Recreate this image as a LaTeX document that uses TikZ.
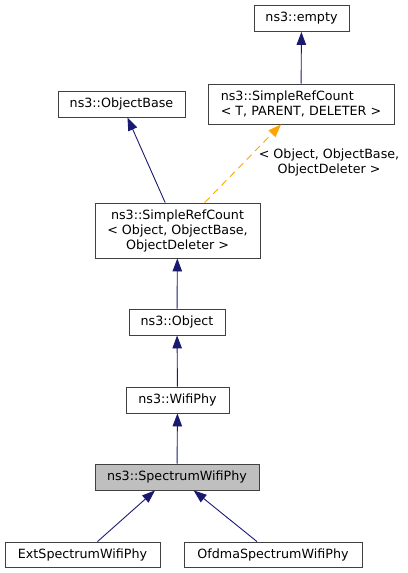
\documentclass[tikz,border=0pt]{standalone}
\usepackage{fontspec}
\setmainfont{DejaVu Sans}
\usepackage{xcolor}
\usetikzlibrary{arrows.meta}
\definecolor{edgeblue}{RGB}{25,25,112}
\definecolor{tmplorange}{RGB}{255,165,0}
\definecolor{boxgray}{RGB}{191,191,191}

\begin{document}
\begin{tikzpicture}[x=1pt,y=-1pt,font=\fontsize{12.7}{15}\selectfont]
    \tikzstyle{cls}=[draw=black!75,line width=0.9pt,inner sep=0pt,minimum height=26pt]
    \tikzstyle{current}=[cls,fill=boxgray]
    \tikzstyle{inherit}=[draw=edgeblue,line width=0.9pt,-{Triangle[length=13pt,width=9.5pt]}]
    \tikzstyle{tmpl}=[draw=tmplorange,line width=0.9pt,dash pattern=on 7pt off 5pt,-{Triangle[length=13pt,width=9.5pt]},tmplorange]

    \useasboundingbox (0,0) rectangle (407,573);

    \node[cls,minimum width=95pt] (empty) at (301.5,18.5) {ns3::empty};
    \node[cls,minimum width=186pt,minimum height=40pt,align=left] (srcT) at (301,104) {ns3::SimpleRefCount\\< T, PARENT, DELETER >};
    \node[cls,minimum width=127pt] (objbase) at (121.5,104) {ns3::ObjectBase};
    \node[cls,minimum width=165pt,minimum height=55pt,align=center] (srcO) at (177.5,230.5) {ns3::SimpleRefCount\hspace{9pt}\\< Object, ObjectBase,\\ObjectDeleter >};
    \node[cls,minimum width=96pt] (object) at (177,322) {ns3::Object};
    \node[cls,minimum width=103pt] (wifiphy) at (177.5,400) {ns3::WifiPhy};
    \node[current,minimum width=164pt] (spectrum) at (177,477) {ns3::SpectrumWifiPhy};
    \node[cls,minimum width=155pt,minimum height=25pt] (ext) at (82.5,554.5) {ExtSpectrumWifiPhy};
    \node[cls,minimum width=178pt,minimum height=25pt] (ofdma) at (273,554.5) {OfdmaSpectrumWifiPhy};

    \node[align=center,inner sep=0pt] (tmplabel) at (329,162) {< Object, ObjectBase,\\ObjectDeleter >};

    \draw [inherit] (srcT) -- (empty);
    \draw [inherit] (srcO) -- (objbase);
    \draw [tmpl] (srcO) -- (srcT);
    \draw [inherit] (object) -- (srcO);
    \draw [inherit] (wifiphy) -- (object);
    \draw [inherit] (spectrum) -- (wifiphy);
    \draw [inherit] ([xshift=15pt]ext.north) -- ([xshift=-22pt]spectrum.south);
    \draw [inherit] (ofdma) -- (spectrum);

  \end{tikzpicture}
\end{document}
